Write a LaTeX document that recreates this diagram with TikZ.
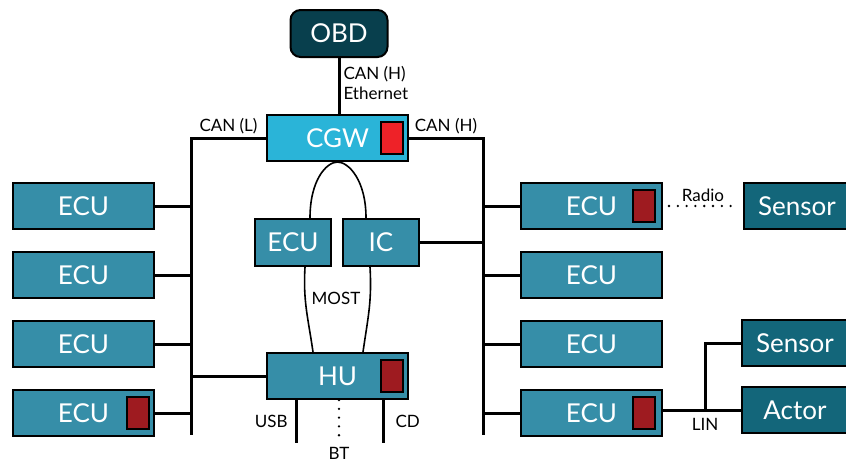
\documentclass[tikz,border=0pt]{standalone}
\usepackage{fontspec}
\setmainfont{Lato}
\usetikzlibrary{positioning,calc}
\definecolor{ecucol}{HTML}{368EA8}
\definecolor{cgwcol}{HTML}{2AB4D8}
\definecolor{obdcol}{HTML}{083F4D}
\definecolor{senscol}{HTML}{13667A}
\definecolor{hsmcol}{HTML}{EE2228}
\definecolor{keycol}{HTML}{9E1B20}

\begin{document}
\begin{tikzpicture}[x=1pt,y=-1pt,node distance=21pt and 80pt,
  box/.style={draw,line width=2pt,fill=ecucol,text=white,minimum width=141pt,minimum height=46pt,inner sep=0pt,font=\fontsize{26}{30}\selectfont},
  small/.style={box,minimum width=76pt,minimum height=47pt},
  periph/.style={box,fill=senscol,minimum width=106pt},
  hsm/.style={draw,line width=1.5pt,fill=keycol,minimum width=22pt,minimum height=32pt,inner sep=0pt},
  lbl/.style={font=\fontsize{17}{20}\selectfont,inner sep=3pt},
  bus/.style={line width=3pt},
  most/.style={line width=1.6pt},
  dots/.style={line width=2.6pt,line cap=round,dash pattern=on 0pt off 8.8pt}]
  \useasboundingbox (0,0) rectangle (846,464);
  % gateway and diagnostics port
  \node[box,fill=obdcol,minimum width=97pt,minimum height=47pt,rounded corners=10pt] (obd) at (339,33.5) {OBD};
  \node[box,fill=cgwcol] (cgw) at (337.5,138) {CGW};
  \node[hsm,fill=hsmcol] at ([xshift=-17pt]cgw.east) {};
  \draw[bus] (obd.south) -- node[lbl,right,align=left,pos=0.45]{CAN (H)\\Ethernet} (obd.south |- cgw.north);
  % left branch
  \node[box] (lecu1) at (83.5,206) {ECU};
  \node[box,below=of lecu1] (lecu2) {ECU};
  \node[box,below=of lecu2] (lecu3) {ECU};
  \node[box,below=of lecu3] (lecu4) {ECU};
  \node[hsm] at ([xshift=-17pt]lecu4.east) {};
  \coordinate (lbus) at (191,435);
  \draw[bus] (cgw.west) -| node[lbl,above,pos=0.25]{CAN (L)} (lbus);
  \foreach \n in {lecu1,lecu2,lecu3,lecu4}
    \draw[bus] (\n.east) -- (\n.east -| lbus);
  % right branch
  \node[box] (recu1) at (591.5,206) {ECU};
  \node[box,below=of recu1] (recu2) {ECU};
  \node[box,below=of recu2] (recu3) {ECU};
  \node[box,below=of recu3] (recu4) {ECU};
  \node[hsm] at ([xshift=-19pt]recu1.east) {};
  \node[hsm] at ([xshift=-19pt]recu4.east) {};
  \coordinate (rbus) at (483,435);
  \draw[bus] (cgw.east) -| node[lbl,above,pos=0.25]{CAN (H)} (rbus);
  \foreach \n in {recu1,recu2,recu3,recu4}
    \draw[bus] (\n.west) -- (\n.west -| rbus);
  % sensors and actor
  \node[periph,right=of recu1] (sens1) {Sensor};
  \node[periph] (sens2) at (795,343) {Sensor};
  \node[periph] (actor) at (795,410) {Actor};
  \draw[dots,shorten <=6pt,shorten >=4pt] (recu1.east) -- node[lbl,above]{Radio} (sens1.west);
  \coordinate (lin) at (705,410);
  \draw[bus] (actor.west) -- (actor.west -| recu4.east);
  \draw[bus] (lin) |- (sens2.west);
  \node[lbl,below=5pt of lin] {LIN};
  % MOST ring
  \node[small] (mecu) at (293,242.5) {ECU};
  \node[small] (ic) at (381,242.5) {IC};
  \node[box] (hu) at (337.5,376) {HU};
  \node[hsm] at ([xshift=-17pt]hu.east) {};
  \draw[bus] (ic.east) -- (ic.east -| rbus);
  \draw[bus] (hu.west) -- (hu.west -| lbus);
  \draw[most] ([xshift=17pt]mecu.north) .. controls +(0,-38) and +(-11,0) .. (cgw.south)
    .. controls +(11,0) and +(0,-38) .. ([xshift=-15pt]ic.north);
  \draw[most] ([xshift=12pt]mecu.south) .. controls +(-2,35) and +(-5,-35) .. ([xshift=-24.5pt]hu.north);
  \draw[most] ([xshift=-11pt]ic.south) .. controls +(2,35) and +(5,-35) .. ([xshift=25.5pt]hu.north);
  \node[lbl] (mostlbl) at (336,298) {MOST};
  % head unit interfaces
  \coordinate (usb) at (296,443);
  \coordinate (cd) at (383,443);
  \coordinate (bt) at (339,440);
  \draw[bus] (usb |- hu.south) -- node[lbl,left=4pt]{USB} (usb);
  \draw[bus] (cd |- hu.south) -- node[lbl,right=8pt]{CD} (cd);
  \draw[dots] (bt |- hu.south) -- (bt);
  \node[lbl,below=4pt of bt] {BT};
\end{tikzpicture}
\end{document}
